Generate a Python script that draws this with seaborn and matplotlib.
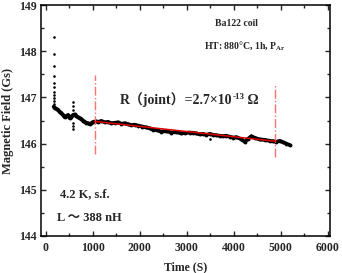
import matplotlib
matplotlib.use("Agg")
import matplotlib.pyplot as plt
import seaborn as sns
import pandas as pd
from matplotlib.ticker import MultipleLocator

# ---- data ----
time_s = [170, 200, 230, 262, 300, 334, 370, 404, 440, 475, 510, 545, 581, 615, 652, 690,
          723, 760, 794, 830, 865, 900, 936, 970, 1007, 1060, 1113, 1185, 1260, 1326, 1400,
          1470, 1539, 1610, 1680, 1752, 1820, 1890, 1964, 2050, 2142, 2210, 2283, 2370,
          2461, 2560, 2674, 2780, 2887, 2970, 3064, 3140, 3206, 3280, 3348, 3420, 3489,
          3560, 3631, 3700, 3773, 3840, 3915, 3990, 4057, 4150, 4234, 4300, 4376, 4460,
          4553, 4660, 4766, 4840, 4908, 4980, 5050, 5120, 5191]
field_gs = [146.80, 146.76, 146.75, 146.73, 146.68, 146.66, 146.62, 146.57, 146.60, 146.62,
            146.55, 146.58, 146.62, 146.63, 146.60, 146.57, 146.55, 146.53, 146.50, 146.47,
            146.45, 146.44, 146.42, 146.44, 146.47, 146.48, 146.47, 146.49, 146.46, 146.47,
            146.44, 146.45, 146.46, 146.43, 146.44, 146.42, 146.40, 146.41, 146.39, 146.37,
            146.35, 146.33, 146.30, 146.29, 146.26, 146.27, 146.24, 146.25, 146.22, 146.23,
            146.24, 146.23, 146.22, 146.20, 146.21, 146.19, 146.21, 146.19, 146.18, 146.17,
            146.16, 146.17, 146.15, 146.13, 146.14, 146.10, 146.04, 146.10, 146.16, 146.12,
            146.09, 146.08, 146.06, 146.05, 146.04, 146.06, 146.03, 146.00, 145.97]

spike_t = [170] * 11 + [580] * 6 + [3489]
spike_v = [148.31, 147.94, 147.68, 147.46, 147.31, 147.23, 147.12, 147.05, 146.99, 146.92, 146.86,
           146.91, 146.81, 146.73, 146.44, 146.38, 146.32,
           146.10]

fit_t = [1040, 4890]
fit_v = [146.48, 146.05]

marker_t = [1040, 4890]
marker_lo = [145.77, 145.71]
marker_hi = [147.48, 147.27]

xticks = [0, 1000, 2000, 3000, 4000, 5000, 6000]
yticks = [144, 145, 146, 147, 148, 149]

# ---- style ----
sns.set_style("ticks")
FAM = ["Liberation Serif", "Noto Sans CJK SC", "DejaVu Sans"]
plt.rcParams["font.family"] = FAM
plt.rcParams["font.weight"] = "bold"
plt.rcParams["mathtext.fontset"] = "custom"
plt.rcParams["mathtext.rm"] = "Liberation Serif:bold"
plt.rcParams["mathtext.bf"] = "Liberation Serif:bold"
plt.rcParams["mathtext.it"] = "Liberation Serif:bold:italic"

fig = plt.figure(figsize=(3.42, 2.73), dpi=100)
ax = fig.add_axes([41 / 342, 1 - 236 / 273, (330 - 41) / 342, (236 - 5) / 273])

df = pd.DataFrame({"t": time_s, "B": field_gs})
sns.lineplot(data=df, x="t", y="B", ax=ax, color="black", lw=2.7, marker="o",
             markersize=2.8, markeredgewidth=0, sort=False, estimator=None)
sns.scatterplot(x=spike_t, y=spike_v, ax=ax, color="black", s=3.5, linewidth=0)

for t, lo, hi in zip(marker_t, marker_lo, marker_hi):
    ax.plot([t, t], [lo, hi], color="#ff7070", lw=1.0, ls="-.")

ax.plot(fit_t, fit_v, color="#e00000", lw=1.1)

ax.set_xlim(-100, 6050)
ax.set_ylim(144, 149)
ax.set_xticks(xticks)
ax.set_yticks(yticks)
ax.xaxis.set_minor_locator(MultipleLocator(500))
ax.yaxis.set_minor_locator(MultipleLocator(0.5))
ax.tick_params(which="both", direction="in", top=True, right=True, width=1.0)
ax.tick_params(which="major", length=3.5, labelsize=8.5)
ax.tick_params(axis="x", which="major", pad=4.5)
ax.tick_params(axis="y", which="major", pad=3)
ax.tick_params(which="minor", length=2)
for lab in ax.get_xticklabels() + ax.get_yticklabels():
    lab.set_fontweight("bold")
for sp in ax.spines.values():
    sp.set_linewidth(1.1)
    sp.set_color("black")

ax.set_xlabel("Time (S)", fontsize=8.5, fontweight="bold", labelpad=5)
ax.set_ylabel("Magnetic Field (Gs)", fontsize=9, fontweight="bold", labelpad=4)

ax.text(236 / 342, 1 - 24 / 273, "Ba122 coil", transform=fig.transFigure,
        ha="center", va="center", fontsize=7, fontweight="bold")
ax.text(204 / 342, 1 - 45 / 273, r"HT: 880°C, 1h, P$_{\mathrm{Ar}}$", transform=fig.transFigure,
        ha="left", va="center", fontsize=7, fontweight="bold")

# R(joint) text built from pieces (CJK parentheses need font fallback, no mathtext)
t1 = fig.text(120 / 342, 1 - 100 / 273, "R（joint）=2.7×10", family=FAM,
              ha="left", va="center", fontsize=10, fontweight="bold")
fig.canvas.draw()
x1 = t1.get_window_extent().x1 / fig.bbox.width
t2 = fig.text(x1, 1 - 97 / 273, "-13", family=FAM, ha="left", va="center",
              fontsize=6.5, fontweight="bold")
fig.canvas.draw()
x2 = t2.get_window_extent().x1 / fig.bbox.width
fig.text(x2, 1 - 100 / 273, " Ω", family=FAM, ha="left", va="center",
         fontsize=10, fontweight="bold")

ax.text(60 / 342, 1 - 194 / 273, "4.2 K, s.f.", transform=fig.transFigure,
        ha="left", va="center", fontsize=9, fontweight="bold")
ax.text(57 / 342, 1 - 218 / 273, "L ～ 388 nH", transform=fig.transFigure,
        ha="left", va="center", fontsize=9, fontweight="bold")

fig.savefig("out.png", dpi=100)
